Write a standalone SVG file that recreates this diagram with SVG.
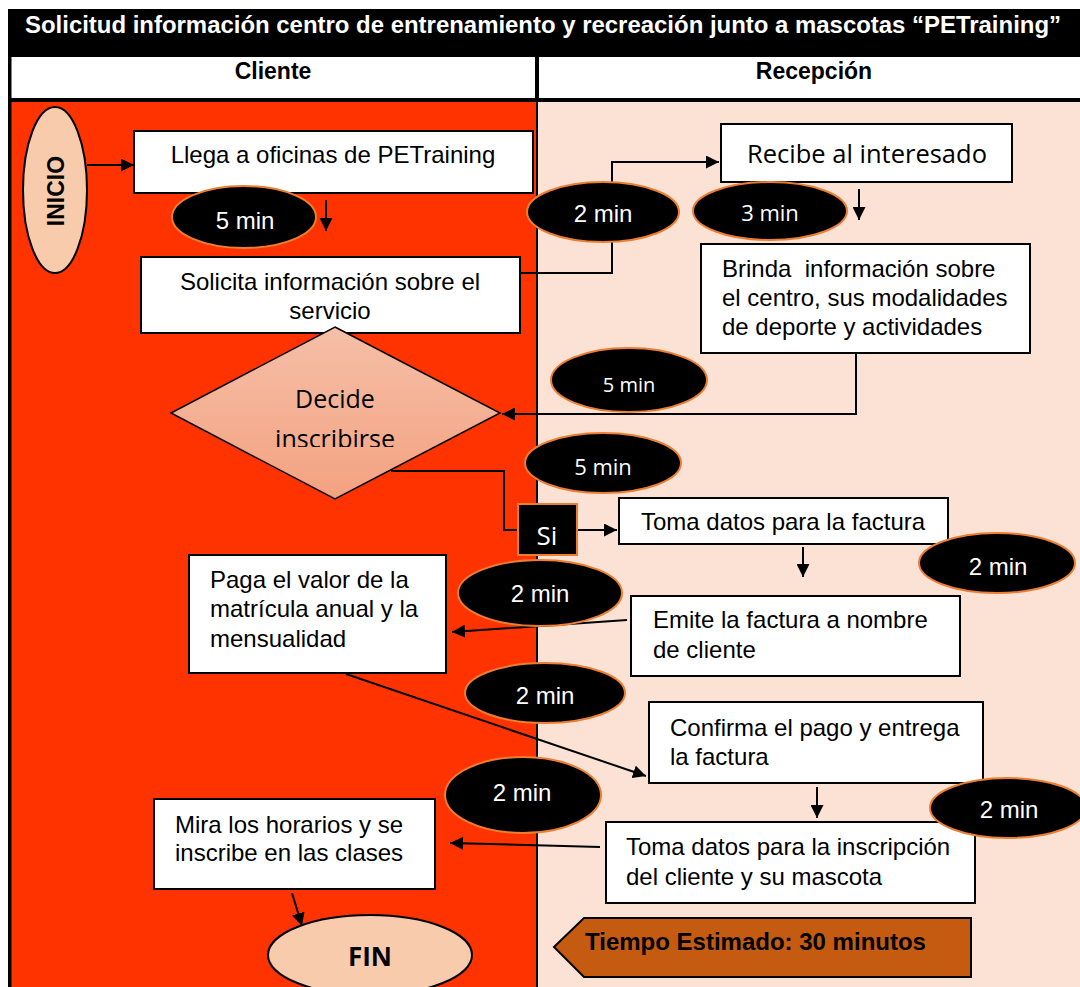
<svg xmlns="http://www.w3.org/2000/svg" width="1080" height="987" viewBox="0 0 1080 987">
<style>
.box{fill:#fff;stroke:#000;stroke-width:2}
.tm{fill:#000;stroke:#ED7D31;stroke-width:2}
.a{font-family:"Liberation Sans",Arial,sans-serif;font-size:24px;fill:#000}
.b{font-family:"Liberation Sans",Arial,sans-serif;font-size:23px;font-weight:bold;fill:#000}
.o{font-family:"Open Sans",sans-serif;font-size:22px;fill:#000}
.w{fill:#fff}
.m{text-anchor:middle}
.conn{stroke:#000;stroke-width:2;fill:none}
.arr{marker-end:url(#ah)}
</style>
<defs>
<marker id="ah" markerUnits="userSpaceOnUse" markerWidth="13" markerHeight="13" refX="13" refY="6.5" orient="auto">
<path d="M0,0 L13,6.5 L0,13 z" fill="#000"/>
</marker>
<linearGradient id="dg" x1="0" y1="0" x2="0" y2="1">
<stop offset="0" stop-color="#F5BFA7"/>
<stop offset="1" stop-color="#F4A281"/>
</linearGradient>
<clipPath id="dclip"><rect x="171" y="327" width="330" height="120"/></clipPath>
</defs>
<rect width="1080" height="987" fill="#fff"/>
<g id="lanes">
<rect x="11" y="102" width="526" height="885" fill="#FF3300"/>
<rect x="537" y="102" width="543" height="885" fill="#FBE2D5"/>
<line x1="537" y1="102" x2="537" y2="987" stroke="#000" stroke-width="2"/>
<rect x="8" y="9" width="1072" height="48" fill="#000"/>
<rect x="11" y="57" width="1069" height="41" fill="#fff"/>
<rect x="8" y="9" width="3.5" height="978" fill="#000"/>
<rect x="535" y="57" width="4" height="45" fill="#000"/>
<rect x="8" y="98" width="1072" height="4" fill="#000"/>
<text class="b w m" x="543" y="33" textLength="1036" lengthAdjust="spacingAndGlyphs">Solicitud información centro de entrenamiento y recreación junto a mascotas “PETraining”</text>
<text class="b m" x="273" y="79">Cliente</text>
<text class="b m" x="814" y="79">Recepción</text>
</g>
<g id="connectors">
<line class="conn arr" x1="87" y1="165" x2="134" y2="165"/>
<line class="conn arr" x1="326" y1="200" x2="326" y2="231"/>
<path class="conn arr" d="M520,273 H612 V162 H719"/>
<line class="conn arr" x1="859" y1="189" x2="859" y2="220"/>
<path class="conn arr" d="M856,353 V414 H502"/>
<path class="conn" d="M391,471 H504 V530 H518"/>
<line class="conn arr" x1="578" y1="530" x2="617" y2="530"/>
<line class="conn arr" x1="803" y1="547" x2="803" y2="577"/>
<line class="conn arr" x1="627" y1="620" x2="452" y2="632"/>
<line class="conn arr" x1="346" y1="674" x2="646" y2="776"/>
<line class="conn arr" x1="817" y1="787" x2="817" y2="818"/>
<line class="conn arr" x1="600" y1="847" x2="450" y2="843"/>
<line class="conn arr" x1="292" y1="893" x2="302" y2="926"/>
</g>
<g id="inicio">
<ellipse cx="55" cy="190" rx="32" ry="83" fill="#F8CBAD" stroke="#000" stroke-width="2"/>
<text class="b m" transform="translate(64,191) rotate(-90)">INICIO</text>
</g>
<g id="llega">
<rect class="box" x="134" y="131" width="399" height="62"/>
<text class="a m" x="333" y="163">Llega a oficinas de PETraining</text>
</g>
<g id="solicita">
<rect class="box" x="141" y="257" width="379" height="76"/>
<text class="a m" x="330" y="290">Solicita información sobre el</text>
<text class="a m" x="330" y="319">servicio</text>
</g>
<g id="recibe">
<rect class="box" x="721" y="124" width="291" height="58"/>
<text class="o m" x="867" y="163" style="font-size:25.5px">Recibe al interesado</text>
</g>
<g id="brinda">
<rect class="box" x="701" y="244" width="329" height="109"/>
<text class="a" x="722" y="277" style="white-space:pre">Brinda  información sobre</text>
<text class="a" x="722" y="306">el centro, sus modalidades</text>
<text class="a" x="722" y="335">de deporte y actividades</text>
</g>
<g id="decide">
<polygon points="335,327 500,413 335,499 171,413" fill="url(#dg)" stroke="#000" stroke-width="1.5"/>
<g clip-path="url(#dclip)">
<text class="o m" x="335" y="408" style="font-size:25px">Decide</text>
<text class="o m" x="335" y="448" style="font-size:25px">inscribirse</text>
</g>
</g>
<g id="si">
<rect x="518" y="504" width="59" height="51" fill="#000" stroke="#ED7D31" stroke-width="2"/>
<text class="o w m" x="547" y="545" style="font-size:26px">Si</text>
</g>
<g id="toma-factura">
<rect class="box" x="619" y="498" width="329" height="46"/>
<text class="a m" x="783" y="530">Toma datos para la factura</text>
</g>
<g id="paga">
<rect class="box" x="189" y="555" width="257" height="118"/>
<text class="a" x="210" y="588">Paga el valor de la</text>
<text class="a" x="210" y="617">matrícula anual y la</text>
<text class="a" x="210" y="647">mensualidad</text>
</g>
<g id="emite">
<rect class="box" x="631" y="596" width="329" height="80"/>
<text class="a" x="653" y="628">Emite la factura a nombre</text>
<text class="a" x="653" y="658">de cliente</text>
</g>
<g id="confirma">
<rect class="box" x="649" y="702" width="334" height="81"/>
<text class="a" x="670" y="736">Confirma el pago y entrega</text>
<text class="a" x="670" y="765">la factura</text>
</g>
<g id="toma-inscripcion">
<rect class="box" x="606" y="822" width="369" height="81"/>
<text class="a" x="626" y="855">Toma datos para la inscripción</text>
<text class="a" x="626" y="885">del cliente y su mascota</text>
</g>
<g id="mira">
<rect class="box" x="154" y="799" width="281" height="90"/>
<text class="a" x="175" y="833">Mira los horarios y se</text>
<text class="a" x="175" y="861">inscribe en las clases</text>
</g>
<g id="fin">
<ellipse cx="370" cy="955" rx="102" ry="40" fill="#F8CBAD" stroke="#000" stroke-width="2"/>
<text class="o m" x="370" y="966" style="font-weight:bold;font-size:26px">FIN</text>
</g>
<g id="tiempo">
<polygon points="554,947 584,918 971,918 971,977 584,977" fill="#C55A11" stroke="#000" stroke-width="2"/>
<text class="b" x="585" y="950" style="font-size:24px">Tiempo Estimado: 30 minutos</text>
</g>
<g id="times">
<ellipse class="tm" cx="244" cy="217" rx="72" ry="31"/>
<text class="a w m" x="245" y="229">5 min</text>
<ellipse class="tm" cx="603" cy="212" rx="76" ry="30"/>
<text class="a w m" x="603" y="222">2 min</text>
<ellipse class="tm" cx="770" cy="211" rx="77" ry="29"/>
<text class="o w m" x="770" y="221">3 min</text>
<ellipse class="tm" cx="629" cy="380" rx="78" ry="32"/>
<text class="o w m" x="629" y="392" style="font-size:20px">5 min</text>
<ellipse class="tm" cx="603" cy="463" rx="78" ry="30"/>
<text class="o w m" x="603" y="475">5 min</text>
<ellipse class="tm" cx="997" cy="563" rx="78" ry="30"/>
<text class="a w m" x="998" y="575">2 min</text>
<ellipse class="tm" cx="540" cy="593" rx="82" ry="33"/>
<text class="a w m" x="540" y="602">2 min</text>
<ellipse class="tm" cx="545" cy="693" rx="80" ry="30"/>
<text class="a w m" x="545" y="704">2 min</text>
<ellipse class="tm" cx="523" cy="795" rx="78" ry="38"/>
<text class="a w m" x="522" y="801">2 min</text>
<ellipse class="tm" cx="1008" cy="808" rx="78" ry="30"/>
<text class="a w m" x="1009" y="818">2 min</text>
</g>
</svg>
